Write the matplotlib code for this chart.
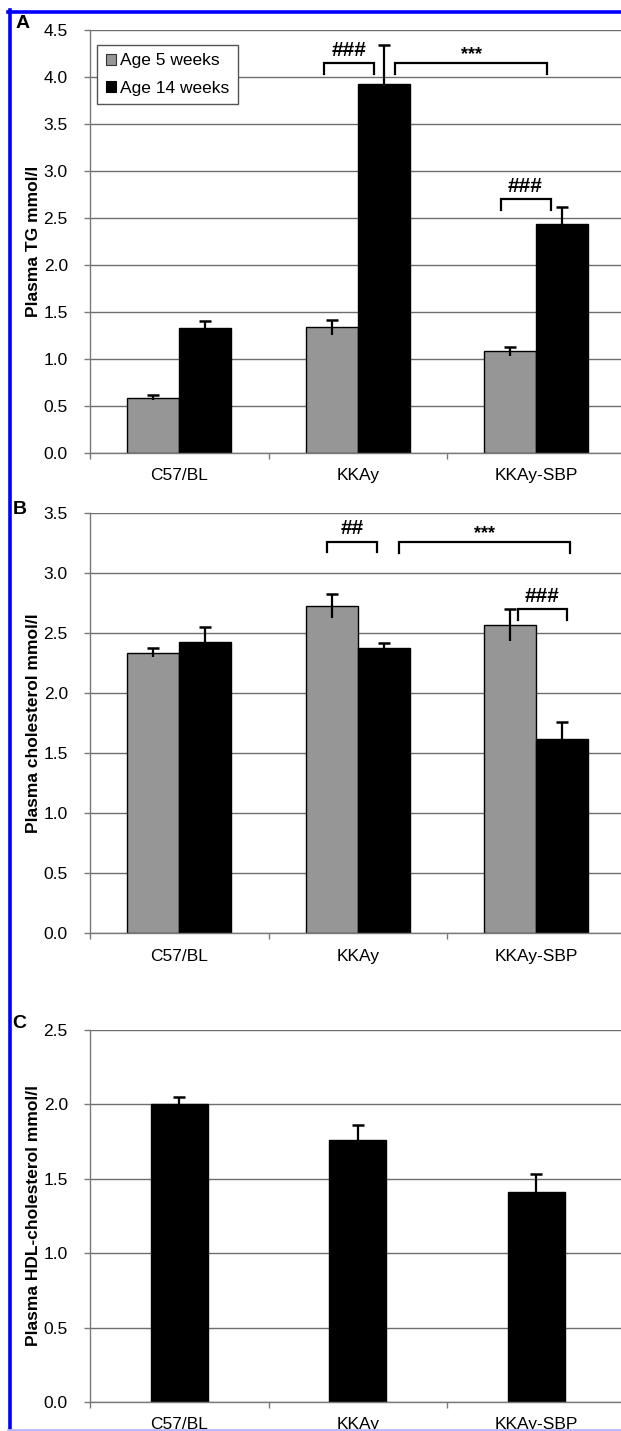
import matplotlib
matplotlib.use("Agg")
import matplotlib.pyplot as plt
from matplotlib.patches import Patch
from matplotlib.lines import Line2D
import numpy as np

plt.rcParams['font.family'] = ['Liberation Sans', 'DejaVu Sans']

# ---------------- data ----------------
groups = ["C57/BL", "KKAy", "KKAy-SBP"]
series_labels = ["Age 5 weeks", "Age 14 weeks"]

tg_5w = [0.59, 1.34, 1.08]
tg_5w_err = [0.03, 0.08, 0.05]
tg_14w = [1.33, 3.93, 2.44]
tg_14w_err = [0.07, 0.41, 0.18]

chol_5w = [2.34, 2.73, 2.57]
chol_5w_err = [0.04, 0.10, 0.13]
chol_14w = [2.43, 2.375, 1.62]
chol_14w_err = [0.12, 0.045, 0.14]

hdl = [2.00, 1.76, 1.41]
hdl_err = [0.05, 0.10, 0.12]

ylabels = ["Plasma TG mmol/l", "Plasma cholesterol mmol/l", "Plasma HDL-cholesterol mmol/l"]
panel_letters = ["A", "B", "C"]
ylims = [4.5, 3.5, 2.5]

# ---------------- figure ----------------
W, H = 621, 1431
fig = plt.figure(figsize=(W / 100, H / 100), dpi=100)
fig.patch.set_facecolor("white")

def fx(px):
    return px / W

def fy(py):
    return 1 - py / H

x_left, x_right = 90, 625.5
panel_px = [(30, 453), (513.3, 933.3), (1030, 1402)]

GREY = "#969696"
GRID = "#6e6e6e"
SPINE = "#7a7a7a"
FS = 12.5

axes = []
for (top, bot) in panel_px:
    ax = fig.add_axes([fx(x_left), fy(bot), fx(x_right - x_left), (bot - top) / H])
    axes.append(ax)

x = np.arange(len(groups))
bw = 0.29

def style_axis(ax, ymax):
    ax.set_xlim(-0.5, 2.5)
    ax.set_ylim(0, ymax)
    ticks = np.arange(0, ymax + 0.01, 0.5)
    ax.set_yticks(ticks)
    ax.set_yticklabels([f"{v:.1f}" for v in ticks])
    ax.yaxis.grid(True, color=GRID, linewidth=1.0)
    ax.set_axisbelow(True)
    for s in ["top", "right"]:
        ax.spines[s].set_visible(False)
    for s in ["left", "bottom"]:
        ax.spines[s].set_color(SPINE)
        ax.spines[s].set_linewidth(1.0)
    ax.set_xticks(x)
    ax.set_xticklabels(groups)
    ax.set_xticks([-0.5, 0.5, 1.5, 2.5], minor=True)
    ax.tick_params(axis="x", which="major", length=0, pad=11, labelsize=FS)
    ax.tick_params(axis="x", which="minor", length=4, color=SPINE, width=1)
    ax.tick_params(axis="y", length=4, color=SPINE, width=1, pad=12, labelsize=FS)

def bars_with_err(ax, xpos, vals, errs, width, color):
    vals = np.asarray(vals)
    errs = np.asarray(errs)
    ax.bar(xpos, vals, width, color=color, edgecolor="black", linewidth=1.0, zorder=2)
    ax.errorbar(xpos, vals, yerr=errs, fmt="none", ecolor="black", elinewidth=1.6,
                capsize=0, zorder=3)
    ax.plot(xpos, vals + errs, ls="none", marker="_", ms=9, mew=1.8, color="black",
            zorder=3)

def bracket(ax, x0, x1, ytop, ybot, text, ty, fs=15):
    ax.plot([x0, x0, x1, x1], [ybot, ytop, ytop, ybot], color="black", lw=1.6,
            clip_on=False, solid_joinstyle="miter")
    ax.text((x0 + x1) / 2, ty, text, ha="center", va="center", fontsize=fs,
            fontweight="bold", color="black")

# ---- Panel A ----
ax = axes[0]
style_axis(ax, ylims[0])
bars_with_err(ax, x - bw / 2, tg_5w, tg_5w_err, bw, GREY)
bars_with_err(ax, x + bw / 2, tg_14w, tg_14w_err, bw, "black")
bracket(ax, 0.81, 1.09, 4.15, 4.03, "###", 4.28)
bracket(ax, 1.21, 2.06, 4.15, 4.03, "***", 4.24, fs=13)
bracket(ax, 1.80, 2.08, 2.70, 2.59, "###", 2.84)
handles = [Patch(facecolor=GREY, edgecolor="#333333", linewidth=0.8),
           Patch(facecolor="black", edgecolor="black", linewidth=0.8)]
leg = ax.legend(handles, series_labels, loc="upper left",
                bbox_to_anchor=(0.013, 0.965), fontsize=FS, frameon=True,
                fancybox=False, edgecolor="#555555", framealpha=1,
                handlelength=0.6, handleheight=0.6, handletextpad=0.25,
                labelspacing=0.7, borderpad=0.5, borderaxespad=0)
leg.get_frame().set_linewidth(1.0)

# ---- Panel B ----
ax = axes[1]
style_axis(ax, ylims[1])
bars_with_err(ax, x - bw / 2, chol_5w, chol_5w_err, bw, GREY)
bars_with_err(ax, x + bw / 2, chol_14w, chol_14w_err, bw, "black")
bracket(ax, 0.83, 1.11, 3.26, 3.18, "##", 3.37)
bracket(ax, 1.23, 2.19, 3.26, 3.17, "***", 3.33, fs=13)
bracket(ax, 1.90, 2.17, 2.70, 2.61, "###", 2.81)

# ---- Panel C ----
ax = axes[2]
style_axis(ax, ylims[2])
bars_with_err(ax, x, hdl, hdl_err, 0.32, "black")

# y labels and panel letters
letter_pos = [(23, 23), (20, 510), (19, 1024)]
for (top, bot), lab, let, lp in zip(panel_px, ylabels, panel_letters, letter_pos):
    fig.text(fx(34), fy((top + bot) / 2), lab, rotation=90, ha="center", va="center",
             fontsize=FS, fontweight="bold")
    fig.text(fx(lp[0]), fy(lp[1]), let, ha="center", va="center",
             fontsize=14, fontweight="bold")

# blue frame of the reference image
fig.add_artist(Line2D([fx(8), fx(W + 5)], [fy(11.5), fy(11.5)], color="#0000ff",
                      lw=2.6, transform=fig.transFigure, zorder=50))
fig.add_artist(Line2D([fx(9.5), fx(9.5)], [fy(10), fy(H + 5)], color="#0000ff",
                      lw=2.6, transform=fig.transFigure, zorder=50))
fig.add_artist(Line2D([fx(8), fx(W + 5)], [fy(1429.5), fy(1429.5)], color="#b8b8ff",
                      lw=2.0, transform=fig.transFigure, zorder=50))

fig.savefig("out.png", dpi=100, facecolor="white")
